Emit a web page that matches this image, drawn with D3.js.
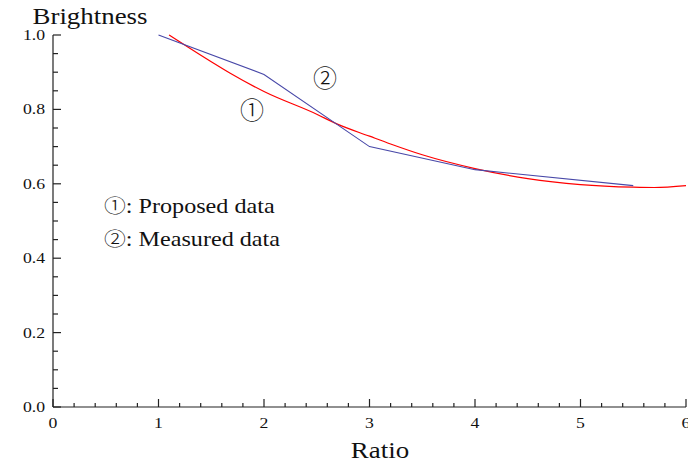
<!DOCTYPE html>
<html>
<head>
<meta charset="utf-8">
<script src="https://cdn.jsdelivr.net/npm/d3@7"></script>
<style>
  body { margin: 0; background: #fff; }
  svg { display: block; }
  text { font-family: "Liberation Serif", "Times New Roman", serif; fill: #111; }
  .circ { font-family: "Noto Sans CJK JP", "DejaVu Sans", sans-serif; font-weight: 300; }
</style>
</head>
<body>
<div id="chart"></div>
<script>
// data
const measuredX = [1, 2, 3, 4, 5.5];
const measuredY = [1.0, 0.894, 0.700, 0.638, 0.595];
const proposedX = [1.1, 1.5, 1.68, 2.0, 2.5, 2.69, 3.0, 3.2, 3.5, 4.0, 4.5, 5.0, 5.5, 5.7, 6.0];
const proposedY = [1.0, 0.928, 0.897, 0.848, 0.787, 0.761, 0.728, 0.707, 0.678, 0.641, 0.614, 0.598, 0.591, 0.590, 0.595];
const xTicks = [0, 1, 2, 3, 4, 5, 6];
const yTicks = [0.0, 0.2, 0.4, 0.6, 0.8, 1.0];
const seriesMarks = ["\u2460", "\u2461"];
const seriesLabels = [": Proposed data", ": Measured data"];

const width = 688, height = 462;
const x = d3.scaleLinear().domain([0, 6]).range([53, 686]);
const y = d3.scaleLinear().domain([0, 1]).range([407, 35]);

const svg = d3.select("#chart").append("svg")
    .attr("width", width)
    .attr("height", height);

// axes lines
const axis = svg.append("g").attr("stroke", "#222").attr("stroke-width", 1.2);
axis.append("line")
    .attr("x1", x(0)).attr("x2", x(6))
    .attr("y1", y(0)).attr("y2", y(0));
axis.append("line")
    .attr("x1", x(0)).attr("x2", x(0))
    .attr("y1", y(0)).attr("y2", y(1));

// x ticks (pointing inward)
const xMinor = d3.range(0, 30).map(i => i * 0.2).filter(v => Math.abs(v - Math.round(v)) > 1e-6);
axis.selectAll(".xmaj").data(xTicks).enter().append("line")
    .attr("x1", d => x(d)).attr("x2", d => x(d))
    .attr("y1", y(0)).attr("y2", y(0) - 8);
axis.selectAll(".xmin").data(xMinor).enter().append("line")
    .attr("x1", d => x(d)).attr("x2", d => x(d))
    .attr("y1", y(0)).attr("y2", y(0) - 4);

// y ticks
const yMinor = d3.range(0, 20).map(i => i * 0.05).filter(v => Math.abs(v * 5 - Math.round(v * 5)) > 1e-6);
axis.selectAll(".ymaj").data(yTicks).enter().append("line")
    .attr("x1", x(0)).attr("x2", x(0) + 8)
    .attr("y1", d => y(d)).attr("y2", d => y(d));
axis.selectAll(".ymin").data(yMinor).enter().append("line")
    .attr("x1", x(0)).attr("x2", x(0) + 5)
    .attr("y1", d => y(d)).attr("y2", d => y(d));

// tick labels (the source text is a bit wide, so stretch it)
svg.append("g").selectAll("text")
    .data(xTicks).enter().append("text")
    .attr("transform", d => `translate(${x(d)}, ${y(0) + 21}) scale(1.18,1)`)
    .attr("text-anchor", "middle")
    .style("font-size", "15px")
    .text(d => d);

svg.append("g").selectAll("text")
    .data(yTicks).enter().append("text")
    .attr("transform", d => `translate(${x(0) - 8}, ${y(d) + 5}) scale(1.18,1)`)
    .attr("text-anchor", "end")
    .style("font-size", "15px")
    .text(d => d.toFixed(1));

// axis titles
svg.append("text")
    .attr("transform", `translate(90, 24) scale(1.17,1)`)
    .attr("text-anchor", "middle")
    .style("font-size", "23px")
    .text("Brightness");

svg.append("text")
    .attr("transform", `translate(380, 458) scale(1.17,1)`)
    .attr("text-anchor", "middle")
    .style("font-size", "23px")
    .text("Ratio");

// curves
const proposed = proposedX.map((v, i) => [v, proposedY[i]]);
const measured = measuredX.map((v, i) => [v, measuredY[i]]);

svg.append("path")
    .datum(proposed)
    .attr("fill", "none")
    .attr("stroke", "#ff0000")
    .attr("stroke-width", 1.2)
    .attr("d", d3.line().x(d => x(d[0])).y(d => y(d[1])).curve(d3.curveMonotoneX));

svg.append("path")
    .datum(measured)
    .attr("fill", "none")
    .attr("stroke", "#4848a8")
    .attr("stroke-width", 1.1)
    .attr("d", d3.line().x(d => x(d[0])).y(d => y(d[1])));

// in-plot markers
svg.append("text")
    .attr("class", "circ")
    .attr("x", 252).attr("y", 119)
    .attr("text-anchor", "middle")
    .style("font-size", "24px")
    .text(seriesMarks[0]);
svg.append("text")
    .attr("class", "circ")
    .attr("x", 325).attr("y", 87)
    .attr("text-anchor", "middle")
    .style("font-size", "24px")
    .text(seriesMarks[1]);

// legend text
const legend = svg.append("g").selectAll("text")
    .data(seriesLabels).enter().append("text")
    .attr("transform", (d, i) => `translate(104, ${213 + i * 33}) scale(1.15,1)`)
    .style("font-size", "21px");
legend.append("tspan")
    .attr("class", "circ")
    .style("font-size", "19px")
    .text((d, i) => seriesMarks[i]);
legend.append("tspan")
    .text(d => d);
</script>
</body>
</html>
